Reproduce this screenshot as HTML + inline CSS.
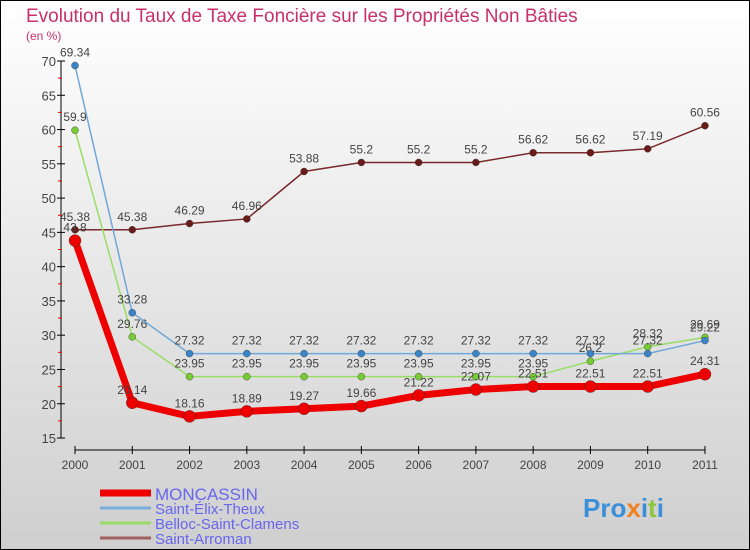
<!DOCTYPE html>
<html><head><meta charset="utf-8"><style>
body{margin:0}
#c{width:750px;height:550px;position:relative;overflow:hidden}
svg text{font-family:"Liberation Sans",sans-serif}
</style></head><body>
<div id="c">
<svg id="s" width="750" height="550" xmlns="http://www.w3.org/2000/svg">
<defs><linearGradient id="bg" x1="0" y1="0" x2="0" y2="1"><stop offset="0" stop-color="#ffffff"/><stop offset="1" stop-color="#cfcfcf"/></linearGradient></defs>
<rect x="0.5" y="0.5" width="749" height="549" fill="url(#bg)" stroke="#000"/>
<text x="26" y="22" font-size="19" fill="#c8306a">Evolution du Taux de Taxe Foncière sur les Propriétés Non Bâties</text>
<text x="26" y="40" font-size="12" fill="#c8306a">(en %)</text>
<g id="axes"></g><g id="series"></g><g id="legend"></g>
<text x="583" y="517" font-size="26" font-weight="bold" fill="#3a8fd8">Pro<tspan fill="#f08020">x</tspan>i<tspan fill="#8cc63f">t</tspan>i</text>
</svg></div>
<script>
const years=[2000,2001,2002,2003,2004,2005,2006,2007,2008,2009,2010,2011];
const moncassin=[43.8,20.14,18.16,18.89,19.27,19.66,21.22,22.07,22.51,22.51,22.51,24.31];
const elix=[69.34,33.28,27.32,27.32,27.32,27.32,27.32,27.32,27.32,27.32,27.32,29.22];
const belloc=[59.9,29.76,23.95,23.95,23.95,23.95,23.95,23.95,23.95,26.2,28.32,29.69];
const arroman=[45.38,45.38,46.29,46.96,53.88,55.2,55.2,55.2,56.62,56.62,57.19,60.56];
const yTicks=[15,20,25,30,35,40,45,50,55,60,65,70];
const names=["MONCASSIN","Saint-Élix-Theux","Belloc-Saint-Clamens","Saint-Arroman"];
const NS="http://www.w3.org/2000/svg";
const X=i=>75+i*57.27, Y=v=>61+(70-v)*6.855;
function mk(t,a,p){const e=document.createElementNS(NS,t);for(const k in a)e.setAttribute(k,a[k]);p.appendChild(e);return e;}
const ax=document.getElementById('axes');
let l=mk('line',{x1:61,y1:61,x2:61,y2:438,stroke:'#000'},ax);


l=mk('line',{x1:75,y1:450,x2:705,y2:450,stroke:'#000'},ax);


yTicks.forEach(v=>{
 mk('line',{x1:57,x2:65,y1:Y(v),y2:Y(v),stroke:'#000'},ax);
 if(v<70) mk('line',{x1:58,x2:62,y1:Y(v+2.5),y2:Y(v+2.5),stroke:'#e00'},ax);
 const t=mk('text',{x:56,y:Y(v)+5,'text-anchor':'end','font-size':13,fill:'#444'},ax);t.textContent=v;
 
 
});
years.forEach((y,i)=>{
 mk('line',{x1:X(i),x2:X(i),y1:446,y2:454,stroke:'#000'},ax);
 const t=mk('text',{x:X(i),y:469,'text-anchor':'middle','font-size':12,fill:'#444'},ax);t.textContent=y;
 
 
});
const sg=document.getElementById('series');
const defs=[[arroman,'#7a2a2a','#6b1a1a',1.5,3.5,'saint-arroman'],[belloc,'#99dd66','#77cc33',1.5,3.5,'belloc-saint-clamens'],[elix,'#6fa8d8','#3a85c8',1.5,3.5,'saint-elix-theux'],[moncassin,'#ee0000','#ee0000',7,6,'moncassin']];
defs.forEach(([d,lc,pc,w,r,n])=>{
 const g=mk('g',{},sg);
 
 
 mk('polyline',{points:d.map((v,i)=>X(i)+','+Y(v)).join(' '),fill:'none',stroke:lc,'stroke-width':w},g);
 d.forEach((v,i)=>{
  const c=mk('circle',{cx:X(i),cy:Y(v),r:r,fill:pc,stroke:'#333','stroke-width':0.4},g);
  
  
  const t=mk('text',{x:X(i),y:Y(v)-9,'text-anchor':'middle','font-size':12,fill:'#444'},g);t.textContent=v;
 });
});
const lg=document.getElementById('legend');
const lcol=['#ee0000','#7aaedc','#99dd66','#a06060'],lw=[7,3,3,3];
names.forEach((n,i)=>{
 const y=493+i*15;
 mk('line',{x1:100,x2:151,y1:y,y2:y,stroke:lcol[i],'stroke-width':lw[i]},lg);
 const t=mk('text',{x:155,y:y+(i==0?7:6),'font-size':i==0?17:15,fill:'#6666ee'},lg);t.textContent=n;
 
 
});
</script>
</body></html>
